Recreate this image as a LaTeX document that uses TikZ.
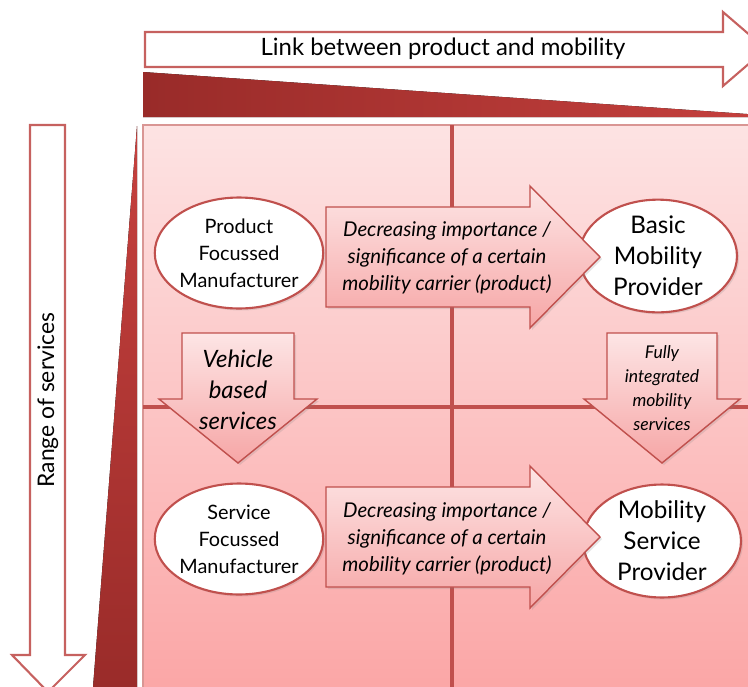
\documentclass[tikz,border=0pt]{standalone}
\usepackage{fontspec}
\setmainfont{Lato}
\usetikzlibrary{shapes.geometric,shadows}

\definecolor{mobred}{HTML}{C0504D}
\definecolor{wedgedark}{HTML}{992B29}
\definecolor{wedgelight}{HTML}{C6413E}
\definecolor{paneltop}{HTML}{FDE3E3}
\definecolor{panelbot}{HTML}{FBA4A4}
\definecolor{arrowtop}{HTML}{FDE5E5}
\definecolor{arrowbot}{HTML}{F6A6A6}

\begin{document}
\begin{tikzpicture}[x=0.02cm, y=-0.02cm,
        hollow/.style={draw=mobred!90, line width=1.2pt, fill=white},
        grid/.style={draw=mobred, line width=1.8pt},
        block/.style={draw=mobred, line width=0.8pt, top color=arrowtop, bottom color=arrowbot,
                      drop shadow={opacity=0.2, shadow xshift=0.04cm, shadow yshift=-0.04cm}},
        actor/.style={ellipse, draw=mobred, line width=1.2pt, fill=white, align=center, inner sep=0pt,
                      minimum width=3.16cm, minimum height=2.22cm,
                      drop shadow={opacity=0.2, shadow xshift=0.04cm, shadow yshift=-0.04cm}},
        small/.style={font=\fontsize{11.3}{15.4}\selectfont},
        big/.style={font=\fontsize{13.8}{17.6}\selectfont},
        note/.style={align=center, font=\itshape\fontsize{11.6}{15.3}\selectfont}
      ]
      \clip (0,0) rectangle (748,687);

      % Axis: product and mobility
      \draw[hollow] (145,32) -- (723,32) -- (723,12) -- (766,49) -- (723,86) -- (723,67) -- (145,67) -- cycle;
      \node[font=\fontsize{13.6}{15}\selectfont] (linklabel) at (443,49) {Link between product and mobility};
      \fill[left color=wedgedark, right color=wedgelight] (143,72) -- (790,117) -- (143,117) -- cycle;

      % Axis: range of services
      \draw[hollow] (30,125) -- (65,125) -- (65,655) -- (85,655) -- (48,692) -- (12,655) -- (30,655) -- cycle;
      \node[rotate=90, font=\fontsize{13}{15}\selectfont] (rangelabel) at (48,400) {Range of services};
      \fill[top color=wedgelight, bottom color=wedgedark] (137,126) -- (137,700) -- (92,700) -- cycle;

      % Matrix
      \draw[draw=mobred!60, line width=0.6pt, top color=paneltop, bottom color=panelbot] (143,125) rectangle (770,710);
      \draw[grid] (452,125) -- (452,710);
      \draw[grid] (143,407) -- (770,407);

      % Actors
      \node[actor, small] (pfm) at (239,253) {Product\\Focussed\\Manufacturer};
      \node[actor, big] (bmp) at (658,256) {Basic\\Mobility\\Provider};
      \node[actor, small] (sfm) at (239,539) {Service\\Focussed\\Manufacturer};
      \node[actor, big] (msp) at (662,541) {Mobility\\Service\\Provider};

      % Shifts between actors
      \draw[block] (326,207) -- (530,207) -- (530,186) -- (600,257) -- (530,328) -- (530,307) -- (326,307) -- cycle;
      \node[note] (shifttop) at (447,258) {Decreasing importance /\\significance of a certain\\mobility carrier (product)};

      \draw[block] (326,487) -- (530,487) -- (530,466) -- (600,537) -- (530,608) -- (530,587) -- (326,587) -- cycle;
      \node[note] (shiftbot) at (447,539) {Decreasing importance /\\significance of a certain\\mobility carrier (product)};

      \draw[block] (182,333) -- (294,333) -- (294,399) -- (317,399) -- (238,463) -- (159,399) -- (182,399) -- cycle;
      \node[note, font=\itshape\fontsize{13.6}{17.6}\selectfont] (vehicle) at (238,390) {Vehicle\\based\\services};

      \draw[block] (607,333) -- (717,333) -- (717,399) -- (740,399) -- (662,463) -- (584,399) -- (607,399) -- cycle;
      \node[note, font=\itshape\fontsize{10}{13.6}\selectfont] (fully) at (662,388) {Fully\\integrated\\mobility\\services};

    \end{tikzpicture}
\end{document}
